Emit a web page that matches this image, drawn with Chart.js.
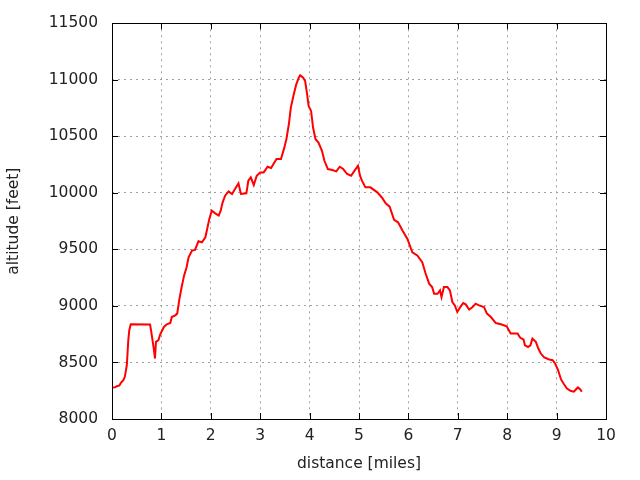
<!DOCTYPE html>
<html>
<head>
<meta charset="utf-8">
<script src="https://cdn.jsdelivr.net/npm/chart.js@4.4.0/dist/chart.umd.min.js"></script>
<style>
  html, body { margin: 0; padding: 0; background: #fff; }
  #wrap { width: 640px; height: 480px; }
</style>
</head>
<body>
<div id="wrap"><canvas id="alt"></canvas></div>
<script>
// track profile
var distance = [0, 0.06, 0.1, 0.15, 0.18, 0.23, 0.26, 0.3, 0.33, 0.35, 0.38, 0.77, 0.79, 0.82, 0.85, 0.87,
  0.89, 0.94, 0.97, 1.0, 1.05, 1.11, 1.18, 1.21, 1.28, 1.32, 1.36, 1.41, 1.46, 1.51, 1.55, 1.62, 1.68,
  1.75, 1.82, 1.89, 1.92, 1.97, 2.02, 2.09, 2.16, 2.2, 2.24, 2.29, 2.36, 2.43, 2.49, 2.56, 2.61, 2.72,
  2.76, 2.81, 2.87, 2.93, 3.0, 3.07, 3.15, 3.22, 3.33, 3.42, 3.48, 3.53, 3.58, 3.62, 3.68, 3.73, 3.78,
  3.81, 3.87, 3.91, 3.95, 3.98, 4.03, 4.07, 4.12, 4.18, 4.25, 4.3, 4.37, 4.46, 4.54, 4.61, 4.68, 4.76,
  4.84, 4.9, 4.98, 5.02, 5.06, 5.13, 5.23, 5.37, 5.47, 5.54, 5.62, 5.71, 5.79, 5.88, 5.98, 6.08, 6.18,
  6.28, 6.35, 6.42, 6.48, 6.52, 6.59, 6.64, 6.67, 6.72, 6.79, 6.84, 6.89, 6.94, 6.99, 7.05, 7.11, 7.16,
  7.23, 7.3, 7.36, 7.43, 7.53, 7.59, 7.67, 7.77, 7.87, 7.99, 8.07, 8.21, 8.26, 8.33, 8.36, 8.42, 8.47,
  8.51, 8.58, 8.63, 8.68, 8.75, 8.85, 8.92, 8.97, 9.03, 9.09, 9.14, 9.21, 9.29, 9.35, 9.39, 9.43, 9.48, 9.51];
var altitude = [8279, 8280, 8290, 8297, 8320, 8344, 8373, 8476, 8697, 8785, 8838, 8835, 8785, 8697, 8608, 8535,
  8682, 8697, 8741, 8770, 8814, 8838, 8849, 8902, 8917, 8932, 9049, 9167, 9270, 9343, 9431, 9490, 9496,
  9572, 9563, 9607, 9667, 9770, 9843, 9819, 9799, 9843, 9916, 9975, 10013, 9990, 10034, 10084, 9990, 9996,
  10108, 10137, 10070, 10152, 10181, 10181, 10231, 10220, 10299, 10299, 10387, 10475, 10607, 10754, 10872, 10960, 11018,
  11040, 11019, 10989, 10872, 10769, 10725, 10578, 10475, 10445, 10372, 10284, 10211, 10202, 10190, 10231, 10211, 10167,
  10152, 10190, 10240, 10152, 10108, 10049, 10049, 10005, 9955, 9908, 9878, 9761, 9740, 9667, 9593, 9475, 9446,
  9387, 9285, 9197, 9167, 9108, 9108, 9138, 9079, 9167, 9167, 9138, 9035, 9005, 8946, 8990, 9026, 9014,
  8967, 8990, 9020, 9005, 8990, 8932, 8902, 8849, 8838, 8820, 8756, 8756, 8720, 8703, 8652, 8637, 8652,
  8711, 8682, 8623, 8579, 8544, 8526, 8520, 8491, 8432, 8350, 8314, 8270, 8247, 8241, 8261, 8279, 8261, 8241];

var xTicks = [0, 1, 2, 3, 4, 5, 6, 7, 8, 9, 10];
var yTicks = [8000, 8500, 9000, 9500, 10000, 10500, 11000, 11500];

var points = distance.map(function (d, i) { return { x: d, y: altitude[i] }; });
var font = { family: "'DejaVu Sans', sans-serif", size: 15.5 };

// gnuplot style frame with inward ticks on all four sides
var frame = {
  id: "frame",
  afterDraw: function (chart) {
    var ctx = chart.ctx, a = chart.chartArea;
    var sx = chart.scales.x, sy = chart.scales.y;
    ctx.save();
    ctx.strokeStyle = "#000";
    ctx.lineWidth = 1;
    ctx.beginPath();
    xTicks.forEach(function (v) {
      var p = Math.round(sx.getPixelForValue(v)) + 0.5;
      ctx.moveTo(p, a.bottom); ctx.lineTo(p, a.bottom - 6);
      ctx.moveTo(p, a.top); ctx.lineTo(p, a.top + 6);
    });
    yTicks.forEach(function (v) {
      var p = Math.round(sy.getPixelForValue(v)) + 0.5;
      ctx.moveTo(a.left, p); ctx.lineTo(a.left + 6, p);
      ctx.moveTo(a.right, p); ctx.lineTo(a.right - 6, p);
    });
    ctx.stroke();
    ctx.strokeRect(Math.round(a.left) + 0.5, Math.round(a.top) + 0.5,
      Math.round(a.right - a.left), Math.round(a.bottom - a.top));
    ctx.restore();
  }
};

new Chart(document.getElementById("alt"), {
  type: "scatter",
  data: {
    datasets: [{
      data: points,
      showLine: true,
      borderColor: "#ff0000",
      borderWidth: 2,
      pointRadius: 0,
      tension: 0
    }]
  },
  options: {
    responsive: true,
    maintainAspectRatio: false,
    animation: false,
    layout: { padding: { top: 22, right: 34, left: 0, bottom: 0 } },
    plugins: { legend: { display: false }, tooltip: { enabled: false } },
    scales: {
      x: {
        type: "linear", min: 0, max: 10,
        afterBuildTicks: function (s) { s.ticks = xTicks.map(function (v) { return { value: v }; }); },
        afterFit: function (s) { s.height = 61; },
        grid: { color: "#a0a0a0", lineWidth: 1, drawTicks: false },
        border: { display: false, dash: [2, 4] },
        ticks: { color: "#222", font: font, padding: 8, maxRotation: 0 },
        title: { display: true, text: "distance [miles]", color: "#222", font: font, padding: { top: 0, bottom: 7 } }
      },
      y: {
        type: "linear", min: 8000, max: 11500,
        afterBuildTicks: function (s) { s.ticks = yTicks.map(function (v) { return { value: v }; }); },
        afterFit: function (s) { s.width = 112; },
        grid: { color: "#a0a0a0", lineWidth: 1, drawTicks: false },
        border: { display: false, dash: [2, 4] },
        ticks: { color: "#222", font: font, padding: 14, callback: function (v) { return String(v); } },
        title: { display: true, text: "altitude [feet]", color: "#222", font: font, padding: { top: 5, bottom: 0 } }
      }
    }
  },
  plugins: [frame]
});
</script>
</body>
</html>
